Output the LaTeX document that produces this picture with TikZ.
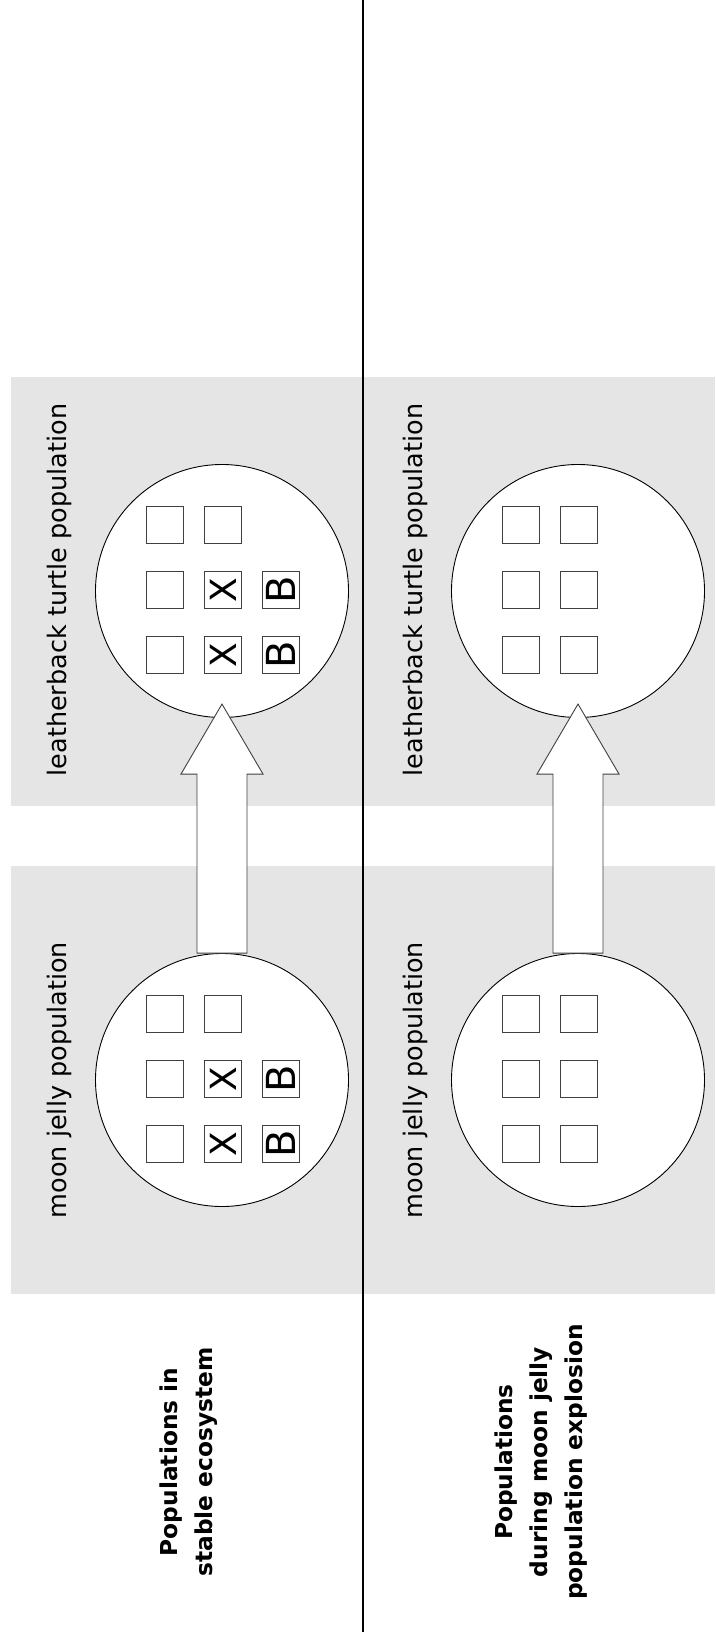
\documentclass[tikz,border=0pt]{standalone}
\usepackage{fontspec}
\setmainfont{DejaVu Sans}
\usetikzlibrary{calc}
\definecolor{bandgray}{HTML}{E5E5E5}
\definecolor{boxline}{HTML}{404040}

\begin{document}
\begin{tikzpicture}[x=1pt,y=-1pt,
  popcircle/.style={circle,draw=black,line width=0.9pt,fill=white,minimum size=253pt,inner sep=0pt},
  cell/.style={draw=boxline,line width=1pt,fill=white,minimum size=37pt,inner sep=0pt},
  xmark/.style={inner sep=0pt,rotate=90,font=\fontsize{36}{36}\selectfont},
  bmark/.style={rotate=90,font=\fontsize{40}{40}\selectfont},
  fatarrow/.style={draw=boxline,line width=0.9pt,fill=white,line join=miter},
  poplabel/.style={rotate=90,font=\fontsize{25.5}{30}\selectfont},
  rowtitle/.style={rotate=90,align=center,font=\bfseries\fontsize{23.3}{35}\selectfont}]

\useasboundingbox (0,0) rectangle (715,1637) ;

% bands and divider
\fill[bandgray] (11,377) rectangle (715,806) ;
\fill[bandgray] (11,866) rectangle (715,1294) ;
\draw[line width=2pt] (363,0) -- (363,1632) ;

% populations
\node[popcircle] (turtleA) at (222,591) {} ;
\node[popcircle] (jellyA) at (222,1080) {} ;
\node[popcircle] (turtleB) at (578,591) {} ;
\node[popcircle] (jellyB) at (578,1080) {} ;

\foreach \pop in {turtleA,jellyA,turtleB,jellyB} {
  \foreach \col/\dx in {1/-57,2/1} {
    \foreach \row/\dy in {1/-66,2/-1,3/64} {
      \node[cell] (\pop-\col-\row) at ($(\pop)+(\dx,\dy)$) {} ;
    }
  }
}

\foreach \pop in {turtleA,jellyA} {
  \foreach \row in {2,3} {
    \node[xmark] (\pop-x-\row) at (\pop-2-\row) {X} ;
    \node[cell,bmark] (\pop-3-\row) at ($(\pop-2-\row)+(58,0)$) {B} ;
  }
}

% arrows
\draw[fatarrow] (jellyA.north) ++(-25,0) -- ++(0,-179) -- ++(-16,0) -- ++(41,-70)
  -- ++(41,70) -- ++(-16,0) -- ++(0,179) -- cycle ;
\draw[fatarrow] (jellyB.north) ++(-25,0) -- ++(0,-179) -- ++(-16,0) -- ++(41,-70)
  -- ++(41,70) -- ++(-16,0) -- ++(0,179) -- cycle ;

% labels
\node[poplabel] (turtleAlbl) at (59,590) {leatherback turtle population} ;
\node[poplabel] (jellyAlbl) at (59,1080) {moon jelly population} ;
\node[poplabel] (turtleBlbl) at (415,590) {leatherback turtle population} ;
\node[poplabel] (jellyBlbl) at (415,1080) {moon jelly population} ;

\node[rowtitle] (stableTitle) at (189,1462) {Populations in\\stable ecosystem} ;
\node[rowtitle] (bloomTitle) at (541,1462) {Populations\\during moon jelly\\population explosion} ;

\end{tikzpicture}
\end{document}
